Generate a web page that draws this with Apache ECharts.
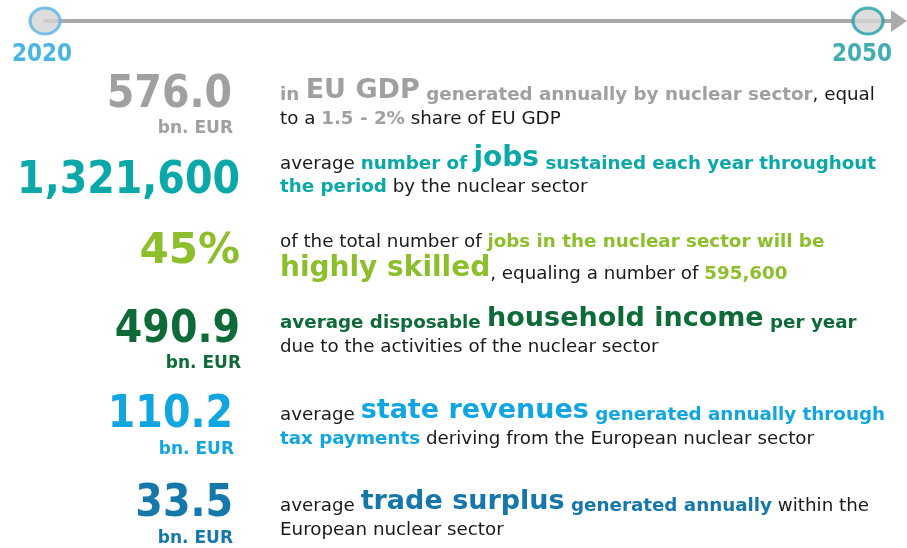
<!DOCTYPE html>
<html>
<head>
<meta charset="utf-8">
<script src="https://cdn.jsdelivr.net/npm/echarts@6/dist/echarts.min.js"></script>
<style>html,body{margin:0;background:#fff}#chart{width:907px;height:548px}</style>
</head>
<body>
<div id="chart"></div>
<script>
const years = [2020, 2050];
const figures = ['576.0', '1,321,600', '45%', '490.9', '110.2', '33.5'];
const units = ['bn. EUR', '', '', 'bn. EUR', 'bn. EUR', 'bn. EUR'];
// each description: lines of [style, text]; n = plain, b = bold colour, B = big bold colour
const descriptions = [
  [[['b', 'in '], ['B', 'EU GDP'], ['b', ' generated annually by nuclear sector'], ['n', ', equal']],
   [['n', 'to a '], ['b', '1.5 - 2%'], ['n', ' share of EU GDP']]],
  [[['n', 'average '], ['b', 'number of '], ['B', 'jobs'], ['b', ' sustained each year throughout']],
   [['b', 'the period'], ['n', ' by the nuclear sector']]],
  [[['n', 'of the total number of '], ['b', 'jobs in the nuclear sector will be']],
   [['B', 'highly skilled'], ['n', ', equaling a number of '], ['b', '595,600']]],
  [[['b', 'average disposable '], ['B', 'household income'], ['b', ' per year']],
   [['n', 'due to the activities of the nuclear sector']]],
  [[['n', 'average '], ['B', 'state revenues'], ['b', ' generated annually through']],
   [['b', 'tax payments'], ['n', ' deriving from the European nuclear sector']]],
  [[['n', 'average '], ['B', 'trade surplus'], ['b', ' generated annually'], ['n', ' within the']],
   [['n', 'European nuclear sector']]]
];

// layout
const FONT = '"DejaVu Sans", sans-serif';
const CONDENSED = '"DejaVu Sans Condensed", "DejaVu Sans", sans-serif';
const yearColors = ['#1aa3dc', '#13999f'];
const ringColors = ['#5cb3e6', '#1f9ea6'];
const rowColors = ['#a0a0a0', '#0aa8a8', '#8cbf2b', '#0e6b38', '#12a6e0', '#1577aa'];
const figureX = [232, 240, 240, 240, 233, 233];
const figureY = [96, 182, 252, 331, 416, 505];
const figureSize = [44, 44, 42, 44, 44, 44];
const figureFont = [CONDENSED, CONDENSED, FONT, CONDENSED, CONDENSED, CONDENSED];
const unitX = [233, 0, 0, 241, 234, 233];
const unitY = [129, 0, 0, 364, 450, 539];
// text baselines of each description line
const baselines = [[99, 123], [168, 191], [246, 278], [327, 351], [419, 443], [510, 534]];
const bigSize = [27, 28, 28, 27, 27, 27];
const textSize = 18.3;

const chart = echarts.init(document.getElementById('chart'));

// token boxes sized so that bottom-aligned tokens share one baseline (5px above line bottom)
function tok(size, weight, fill) {
  return {
    fontFamily: FONT, fontSize: size, fontWeight: weight, fill: fill,
    lineHeight: 0.594 * size + 10, verticalAlign: 'bottom'
  };
}

const graphics = [];
figures.forEach((f, i) => {
  graphics.push({
    type: 'text', x: figureX[i], y: figureY[i],
    style: { text: f, fontFamily: figureFont[i], fontSize: figureSize[i], fontWeight: 'bold',
      fill: rowColors[i], align: 'right', verticalAlign: 'middle' }
  });
  if (units[i]) {
    graphics.push({
      type: 'text', x: unitX[i], y: unitY[i],
      style: { text: units[i], fontFamily: FONT, fontSize: 17, fontWeight: 'bold',
        fill: rowColors[i], align: 'right', verticalAlign: 'middle' }
    });
  }
  const rich = {
    n: tok(textSize, 'normal', '#1a1a1a'),
    b: tok(textSize, 'bold', rowColors[i]),
    B: tok(bigSize[i], 'bold', rowColors[i])
  };
  descriptions[i].forEach((line, j) => {
    graphics.push({
      type: 'text', x: 280, y: baselines[i][j] + 5,
      style: {
        text: line.map(s => '{' + s[0] + '|' + s[1] + '}').join(''),
        rich: rich, fontFamily: FONT, fontSize: textSize, fill: '#1a1a1a',
        align: 'left', verticalAlign: 'bottom'
      }
    });
  });
});

chart.setOption({
  animation: false,
  grid: { left: 45, right: 8, top: 1, height: 20 },
  xAxis: {
    type: 'value', min: 2020, max: 2051.13,
    axisLine: { lineStyle: { color: '#ababab', width: 4 }, symbol: ['none', 'triangle'], symbolSize: [22, 16] },
    axisTick: { show: false }, axisLabel: { show: false }, splitLine: { show: false }
  },
  yAxis: { type: 'value', min: 0, max: 1, show: false },
  series: [{
    type: 'scatter',
    symbolSize: [30, 26],
    data: years.map((y, k) => ({
      value: [y, 0],
      itemStyle: { color: '#d3d3d3', borderColor: ringColors[k], borderWidth: 3 },
      label: { color: yearColors[k], offset: [k ? -6 : -3, 0] }
    })),
    label: {
      show: true, position: 'bottom', distance: 7,
      formatter: p => String(p.value[0]),
      fontFamily: CONDENSED, fontSize: 24, fontWeight: 'bold'
    }
  }],
  graphic: graphics
});
</script>
</body>
</html>
